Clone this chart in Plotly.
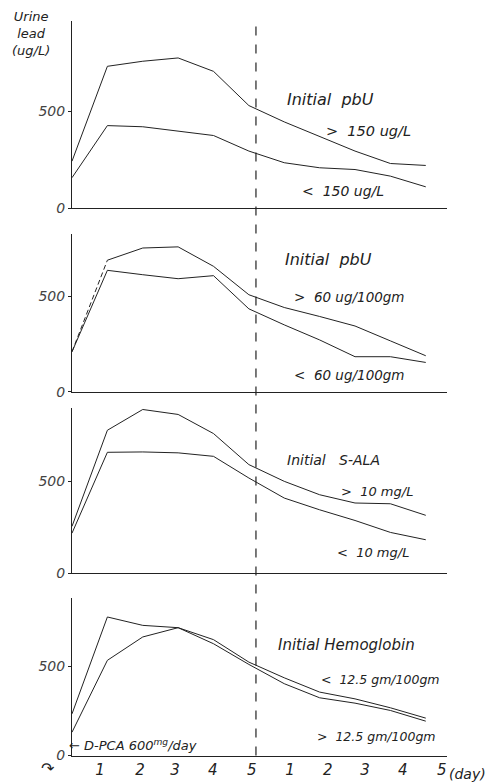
import plotly.graph_objects as go

# Browser window and page margin
WIN_W, WIN_H = 495, 783
PAGE_MARGIN = 8
W = WIN_W - 2 * PAGE_MARGIN
H = 776

days = list(range(11))
tick_labels = ["1", "2", "3", "4", "5", "1", "2", "3", "4", "5"]
tick_pos = [0.79, 1.92, 2.91, 3.98, 5.08, 6.16, 7.23, 8.28, 9.35, 10.45]

# Panel 1: initial pbU (ug/L)
p1_high = [243, 731, 757, 774, 705, 529, 445, 368, 295, 231, 221]
p1_low = [158, 426, 420, 397, 375, 295, 235, 209, 200, 166, 111]
# Panel 2: initial pbU (ug/100gm)
p2_high = [210, 690, 754, 760, 658, 509, 442, 395, 345, 267, 189]
p2_low = [210, 637, 614, 593, 609, 435, 351, 272, 184, 184, 154]
# Panel 3: initial S-ALA
p3_high = [255, 778, 891, 864, 760, 591, 500, 427, 382, 378, 315]
p3_low = [218, 658, 660, 655, 636, 518, 409, 345, 287, 222, 182]
# Panel 4: initial hemoglobin
p4_lt = [131, 534, 665, 717, 650, 524, 436, 356, 318, 268, 210]
p4_gt = [234, 777, 730, 717, 627, 511, 403, 324, 294, 253, 193]

panels = [
    (p1_high, p1_low),
    (p2_high, p2_low),
    (p3_high, p3_low),
    (p4_lt, p4_gt),
]

INK = "#222222"
FONT = "DejaVu Sans"


def px(x):
    return (x - PAGE_MARGIN) / W


def py(y):
    fy = y - PAGE_MARGIN + 0.0126 * (y - 90)
    return 1 - fy / H


# panel geometry in window pixels: (zero line y, top of axis y, y range max)
geo = [(209, 22, 964), (392, 235, 825), (573, 408, 900), (755, 598, 882)]
x_left, x_right = 72, 447

fig = go.Figure()
for i, (a, b) in enumerate(panels):
    n = "" if i == 0 else str(i + 1)
    ax = dict(xaxis="x" + n, yaxis="y" + n, showlegend=False, hoverinfo="skip",
              mode="lines")
    if i == 1:
        # first rise of the upper curve is drawn broken in the original
        fig.add_trace(go.Scatter(x=days[:2], y=a[:2],
                                 line=dict(color=INK, width=1, dash="5px,3px"), **ax))
        fig.add_trace(go.Scatter(x=days[1:], y=a[1:],
                                 line=dict(color=INK, width=1), **ax))
    else:
        fig.add_trace(go.Scatter(x=days, y=a, line=dict(color=INK, width=1), **ax))
    fig.add_trace(go.Scatter(x=days, y=b, line=dict(color=INK, width=1), **ax))
    zero, top, ymax = geo[i]
    last = i == 3
    xa = dict(
        domain=[px(x_left), px(x_right)], range=[0, 10.6],
        anchor="y" + n, showline=True, linecolor=INK, linewidth=1,
        showgrid=False, zeroline=False, ticks="",
    )
    if last:
        xa.update(tickmode="array", tickvals=tick_pos, ticktext=tick_labels,
                  tickfont=dict(family=FONT, size=15, color=INK, style="italic"))
    else:
        xa.update(showticklabels=False)
    fig.layout["xaxis" + n] = xa
    fig.layout["yaxis" + n] = dict(
        domain=[py(zero), py(top)], range=[0, ymax],
        anchor="x" + n, showline=True, linecolor=INK, linewidth=1,
        showgrid=False, zeroline=False,
        tickmode="array", tickvals=[0, 500], ticktext=["0", "500"],
        ticks="outside", ticklen=3, tickcolor=INK,
        tickfont=dict(family=FONT, size=14, color="#444444", style="italic"),
    )

fig.add_shape(type="line", xref="x", yref="paper", x0=5.2, x1=5.2,
              y0=py(755), y1=py(25),
              line=dict(color=INK, width=1.2, dash="dash"))


def label(text, x, y, size=13, anchor="left"):
    fig.add_annotation(text=text, x=px(x), y=py(y), xref="paper", yref="paper",
                       showarrow=False, xanchor=anchor, yanchor="middle",
                       borderpad=0,
                       font=dict(family=FONT, size=size, color=INK, style="italic"))


label("Urine<br>lead<br>(ug/L)", 11, 34, size=13)
label("Initial  pbU", 286, 100, size=16)
label(">  150 ug/L", 325, 132, size=14.5)
label("<  150 ug/L", 301, 192, size=14)
label("Initial  pbU", 284, 260, size=16)
label(">  60 ug/100gm", 293, 297, size=13.5)
label("<  60 ug/100gm", 293, 375, size=13.5)
label("Initial   S-ALA", 286, 460, size=14)
label(">  10 mg/L", 340, 491, size=13)
label("<  10 mg/L", 336, 552, size=13)
label("Initial Hemoglobin", 277, 645, size=15)
label("<  12.5 gm/100gm", 320, 679, size=12.5)
label(">  12.5 gm/100gm", 316, 736, size=12.5)
label("← D-PCA 600<sup>mg</sup>/day", 68, 744, size=13)
label("(day)", 487, 773, size=14, anchor="right")
label("↷", 40, 768, size=16)

fig.update_layout(width=W, height=H, margin=dict(l=0, r=0, t=0, b=0),
                  paper_bgcolor="white", plot_bgcolor="white")

fig.write_html("out.html")
